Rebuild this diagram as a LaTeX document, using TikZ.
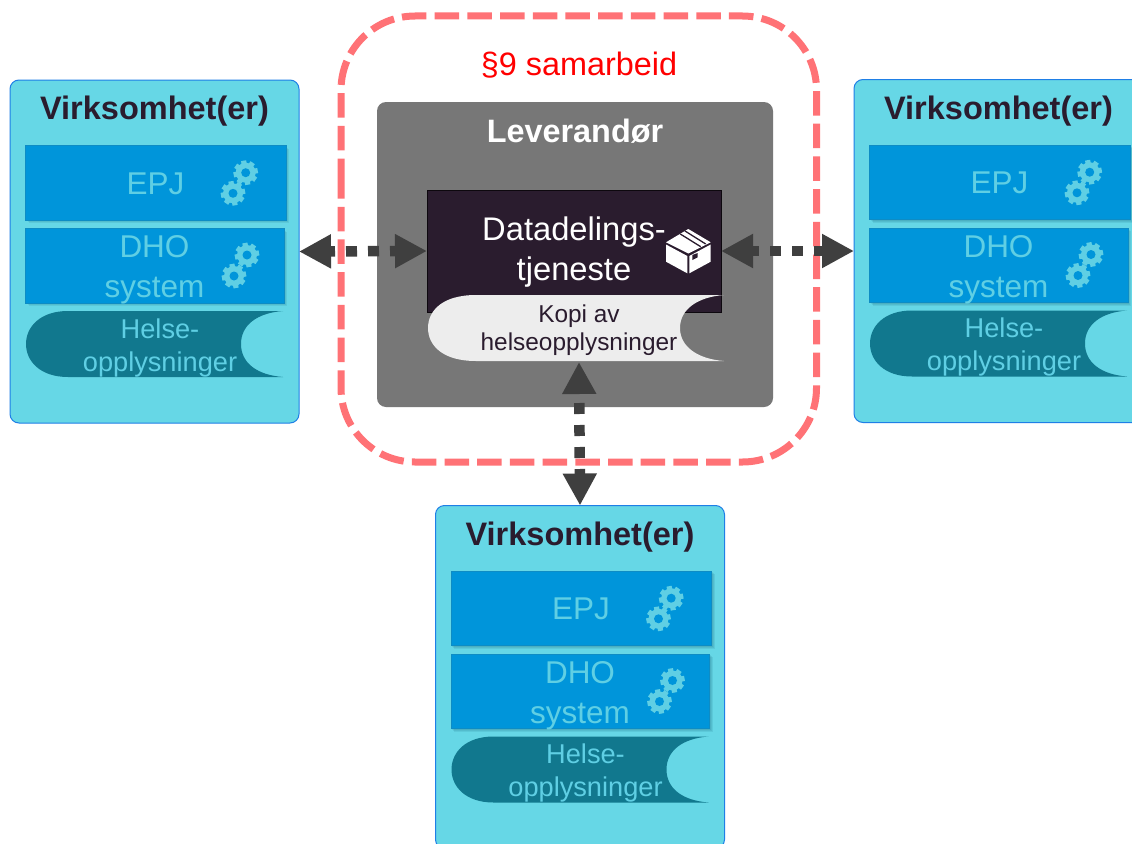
\documentclass[tikz,border=0pt]{standalone}
\usepackage{fontspec}
\setmainfont{Liberation Sans}
\usetikzlibrary{arrows.meta}
\definecolor{blockfill}{HTML}{66D7E6}
\definecolor{blockline}{HTML}{1F7FE6}
\definecolor{sysblue}{HTML}{0095DA}
\definecolor{sysline}{HTML}{0E8CC4}
\definecolor{lighttxt}{HTML}{5FCFE4}
\definecolor{datateal}{HTML}{11788E}
\definecolor{darkink}{HTML}{2A1C2E}
\definecolor{grayfill}{HTML}{777777}
\definecolor{kopifill}{HTML}{EDEDED}
\definecolor{salmon}{HTML}{FF7276}
\definecolor{arrowgray}{HTML}{3F3F3F}
\tikzset{
  x=1pt,y=-1pt,
  txt/.style={inner sep=0pt,outer sep=0pt,align=center},
  blocktitle/.style={txt,text=darkink,font=\fontsize{32.5}{38}\selectfont\bfseries},
  systxt/.style={txt,text=lighttxt,font=\fontsize{31.5}{40}\selectfont},
  datatxt/.style={txt,text=lighttxt,font=\fontsize{27.2}{33}\selectfont},
  blockbox/.style={draw=blockline,line width=1pt,fill=blockfill,rounded corners=9pt,
    minimum width=289pt,minimum height=343pt,inner sep=0pt,outer sep=0pt},
  sysbox/.style={draw=sysline,line width=0.8pt,fill=sysblue},
  sysshadow/.style={fill=black!60!sysblue,fill opacity=0.09},
  flow/.style={line width=10.5pt,arrowgray,
    {Triangle[length=32pt,width=32pt]}-{Triangle[length=32pt,width=32pt]}},
}
\newcommand{\gearicon}[2]{%
  \begin{scope}[shift={(#1,#2)}]
    \foreach \a in {0,45,...,315}{\fill[lighttxt,rotate=\a+10] (-2.6,-12.2) rectangle (2.6,0);}
    \fill[lighttxt] (0,0) circle[radius=10];
    \fill[sysblue] (0,0) circle[radius=4.5];
  \end{scope}}
\newcommand{\flowshape}[7]{% x1 y1 x2 y2 left inset, right inset, fill
  \fill[#7] (#1+#5,#2) -- (#3,#2) .. controls (#3-26,#2+2) and (#3-#6,#2+14) .. (#3-#6,#2/2+#4/2)
    .. controls (#3-#6,#4-14) and (#3-26,#4-2) .. (#3,#4) -- (#1+#5,#4)
    .. controls (#1+14,#4) and (#1,#4-16) .. (#1,#2/2+#4/2)
    .. controls (#1,#2+16) and (#1+14,#2) .. (#1+#5,#2) -- cycle;}
\newcommand{\shadowbox}[4]{%
  \fill[sysshadow] (#1+1,#2+1) rectangle (#3+1,#4+1);
  \fill[sysshadow] (#1+2,#2+2) rectangle (#3+2,#4+2);
  \fill[sysshadow] (#1+3,#2+3) rectangle (#3+3,#4+3);}
\newcommand{\orgblock}[3]{%
  \begin{scope}[shift={(#2,#3)}]
    \node[blockbox] (#1) at (154.5,251.5) {};
    \node[blocktitle] (#1title) at (154.5,111.5) {Virksomhet(er)};
    \shadowbox{25.5}{145.5}{286}{220}
    \draw[sysbox] (25.5,145.5) rectangle (286,220);
    \node[systxt] (#1epj) at (155.5,183.5) {EPJ};
    \gearicon{245.7}{172.7}\gearicon{233}{193.3}
    \shadowbox{25.5}{228.5}{284}{303}
    \draw[sysbox] (25.5,228.5) rectangle (284,303);
    \node[systxt] (#1dho) at (154.5,270) {DHO\\system};
    \gearicon{247}{255}\gearicon{234}{276}
    \flowshape{26}{311}{283}{377}{42}{42}{datateal}
    \node[datatxt] (#1helse) at (160,347.5) {Helse-\\opplysninger};
  \end{scope}}
\begin{document}
\begin{tikzpicture}
\clip (0,0) rectangle (1132,843);
\fill[white] (0,0) rectangle (1132,843);
\orgblock{left}{0}{0}
\orgblock{right}{844}{-0.5}
\orgblock{bottom}{425.5}{425.5}
% central group
\draw[salmon,line width=7pt,dash pattern=on 24.5pt off 8.2pt,rounded corners=74pt]
  (341,257) -- (341,16) -- (816.5,16) -- (816.5,462) -- (341,462) -- cycle;
\node[txt,text=red,font=\fontsize{32.4}{38}\selectfont] (partner) at (579,65) {§9 samarbeid};
\node[fill=grayfill,rounded corners=9pt,minimum width=396pt,minimum height=305pt,inner sep=0pt,outer sep=0pt] (vendor) at (575,254.5) {};
\node[txt,text=white,font=\fontsize{32.4}{38}\selectfont\bfseries] (vendortitle) at (575,131.5) {Leverandør};
\node[fill=darkink,draw=black!70!darkink,line width=0.6pt,minimum width=294pt,minimum height=122pt,inner sep=0pt,outer sep=0pt] (data) at (574,251) {};
\node[txt,text=white,font=\fontsize{32.7}{40}\selectfont] (datatxt) at (574,252) {Datadelings-\\tjeneste};
% package icon
\fill[white] (688.3,229) -- (710.7,242.3) -- (688.3,253.5) -- (666,242.3) -- cycle;
\fill[white] (666,244.5) -- (687.3,256) -- (687.3,273.3) -- (666,261.7) -- cycle;
\fill[white] (689.3,256) -- (710.7,244.5) -- (710.7,261.7) -- (689.3,273.3) -- cycle;
\draw[darkink,line width=1.3pt] (680.3,234) -- (700.7,246.7) (685,231) -- (705.7,244);
\fill[darkink] (692.3,255) -- (697.7,253) -- (697.7,257.3) -- (692.3,260) -- cycle;
\flowshape{428}{295}{724}{361}{48}{44}{kopifill}
\node[txt,text=darkink,font=\fontsize{24.4}{28.5}\selectfont] (kopi) at (579,330) {Kopi av\\helseopplysninger};
\coordinate (kopibase) at (579,362);
% connectors
\draw[flow,dash pattern=on 11pt off 11pt,dash phase=5pt] (left.east) -- (data.west);
\draw[flow,dash pattern=on 11pt off 11pt,dash phase=3pt] (data.east) -- (right.west);
\draw[flow,dash pattern=on 11pt off 11pt,dash phase=11pt] (kopibase) -- (bottom.north);
\end{tikzpicture}
\end{document}
